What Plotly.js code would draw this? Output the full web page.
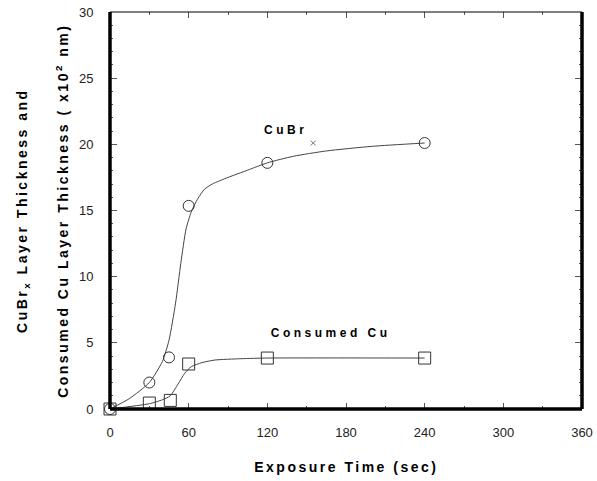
<!DOCTYPE html>
<html>
<head>
<meta charset="utf-8">
<script src="https://cdn.plot.ly/plotly-3.0.1.min.js"></script>
<style>
  html, body { margin: 0; padding: 0; background: #fff; }
  g.annotation[data-index="0"] text, g.annotation[data-index="1"] text { letter-spacing: 3.5px; }
  g.annotation[data-index="2"] text, g.annotation[data-index="3"] text, g.annotation[data-index="4"] text { letter-spacing: 2.5px; }
</style>
</head>
<body>
<div id="chart" style="width:597px;height:481px;"></div>
<script>
// Measured points
var timeX = [0, 30, 45, 60, 120, 240];
var cubrY = [0, 2.0, 3.9, 15.35, 18.6, 20.1];
var cuTimeX = [0, 30, 46, 60, 120, 240];
var cuY = [0, 0.45, 0.65, 3.4, 3.85, 3.85];

// Smooth fit curves
var cubrFitX = [0, 15, 30, 40, 45, 50, 54, 58, 62, 67, 72, 78, 90, 105, 120, 140, 165, 200, 240];
var cubrFitY = [0, 0.8, 2.0, 3.6, 5.2, 8.0, 11.0, 13.6, 14.9, 15.9, 16.6, 17.0, 17.5, 18.05, 18.6, 19.1, 19.5, 19.85, 20.1];
var cuFitX = [0, 30, 40, 46, 52, 57, 62, 70, 80, 100, 120, 240];
var cuFitY = [0, 0.4, 0.7, 1.0, 1.9, 2.7, 3.2, 3.5, 3.7, 3.8, 3.85, 3.85];

// Stray small cross marker
var crossX = [155];
var crossY = [20.1];

// Axis ticks
var xTicks = [0, 60, 120, 180, 240, 300, 360];
var yTicks = [0, 5, 10, 15, 20, 25, 30];
var xRange = [0, 360];
var yRange = [0, 30];

var lineColor = '#444';
var markColor = '#333';

var traces = [
  { x: cubrFitX, y: cubrFitY, mode: 'lines', line: { shape: 'spline', smoothing: 0.6, color: lineColor, width: 1 }, hoverinfo: 'skip', cliponaxis: false },
  { x: cuFitX, y: cuFitY, mode: 'lines', line: { shape: 'spline', smoothing: 0.6, color: lineColor, width: 1 }, hoverinfo: 'skip', cliponaxis: false },
  { x: timeX, y: cubrY, mode: 'markers', marker: { symbol: 'circle-open', size: 11, color: markColor, line: { width: 1, color: markColor } }, cliponaxis: false },
  { x: cuTimeX, y: cuY, mode: 'markers', marker: { symbol: 'square-open', size: 12, color: markColor, line: { width: 1, color: markColor } }, cliponaxis: false },
  { x: crossX, y: crossY, xaxis: 'x2', yaxis: 'y2', mode: 'markers', marker: { symbol: 'x-thin-open', size: 5, color: '#777', line: { width: 1, color: '#777' } }, cliponaxis: false }
];

var tickFont = { family: 'Liberation Sans, Arial, sans-serif', size: 13, color: '#222' };
var boldFont = { family: 'Liberation Sans, Arial, sans-serif', size: 14, color: '#000', weight: 'bold' };
var labelFont = { family: 'Liberation Sans, Arial, sans-serif', size: 12, color: '#000', weight: 'bold' };

var layout = {
  width: 597, height: 481,
  margin: { l: 110, r: 15, t: 12, b: 72 },
  paper_bgcolor: '#fff', plot_bgcolor: '#fff',
  showlegend: false,
  xaxis: {
    range: xRange, tickvals: xTicks, showticklabels: false,
    ticks: 'inside', ticklen: 6, tickwidth: 1, tickcolor: '#555',
    mirror: 'ticks', showline: false, zeroline: false, showgrid: false,
    minor: { dtick: 30, tick0: 0, ticks: 'inside', ticklen: 3, tickwidth: 1, tickcolor: '#555', showgrid: false }
  },
  yaxis: {
    range: yRange, tickvals: yTicks, showticklabels: false,
    ticks: 'inside', ticklen: 7, tickwidth: 1, tickcolor: '#555',
    mirror: 'ticks', showline: false, zeroline: false, showgrid: false,
    minor: { dtick: 1, tick0: 0, ticks: 'inside', ticklen: 3, tickwidth: 1, tickcolor: '#555', showgrid: false }
  },
  xaxis2: {
    overlaying: 'x', anchor: 'y2', side: 'bottom',
    range: xRange, tickvals: xTicks, ticktext: xTicks.map(String),
    ticks: 'outside', ticklen: 11, tickcolor: 'rgba(0,0,0,0)',
    showline: false, zeroline: false, showgrid: false, tickfont: tickFont
  },
  yaxis2: {
    overlaying: 'y', anchor: 'x2', side: 'left',
    range: yRange, tickvals: yTicks, ticktext: yTicks.map(String),
    ticks: 'outside', ticklen: 13, tickcolor: 'rgba(0,0,0,0)',
    showline: false, zeroline: false, showgrid: false, tickfont: tickFont
  },
  shapes: [
    { type: 'line', xref: 'paper', yref: 'paper', x0: 0, x1: 1, y0: 1, y1: 1, line: { color: '#000', width: 1 }, layer: 'above' },
    { type: 'line', xref: 'paper', yref: 'paper', x0: 0, x1: 0, y0: 0, y1: 1, line: { color: '#000', width: 3.5 }, layer: 'above' },
    { type: 'line', xref: 'paper', yref: 'paper', x0: 0, x1: 1, y0: 0, y1: 0, line: { color: '#000', width: 3.5 }, layer: 'above' },
    { type: 'line', xref: 'paper', yref: 'paper', x0: 1, x1: 1, y0: 0, y1: 1, line: { color: '#000', width: 3.5 }, layer: 'above' }
  ],
  annotations: [
    { text: 'CuBr', x: 134, y: 21.1, xref: 'x', yref: 'y', showarrow: false, font: labelFont, xanchor: 'center', yanchor: 'middle' },
    { text: 'Consumed Cu', x: 168, y: 5.75, xref: 'x', yref: 'y', showarrow: false, font: labelFont, xanchor: 'center', yanchor: 'middle' },
    { text: 'Exposure Time (sec)', x: 0.5, y: -0.146, xref: 'paper', yref: 'paper', showarrow: false, font: boldFont, xanchor: 'center', yanchor: 'middle' },
    { text: 'CuBr<sub>x</sub> Layer Thickness and', x: -0.186, y: 0.5, xref: 'paper', yref: 'paper', showarrow: false, font: boldFont, textangle: -90, xanchor: 'center', yanchor: 'middle' },
    { text: 'Consumed Cu Layer Thickness ( x10<sup>2</sup> nm)', x: -0.102, y: 0.5, xref: 'paper', yref: 'paper', showarrow: false, font: boldFont, textangle: -90, xanchor: 'center', yanchor: 'middle' }
  ]
};

Plotly.newPlot('chart', traces, layout, { displayModeBar: false, staticPlot: true });
</script>
</body>
</html>
